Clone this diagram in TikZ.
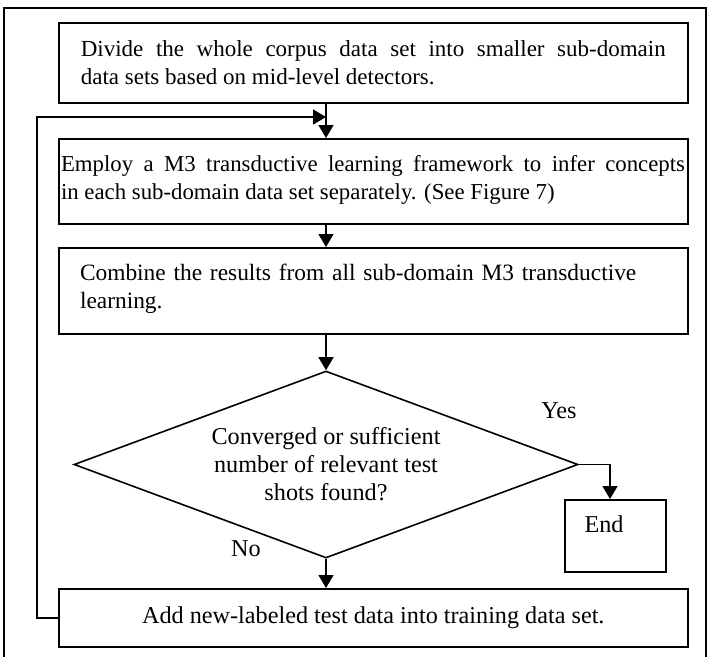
\documentclass[tikz,border=0pt]{standalone}
\usepackage{fontspec}
\setmainfont{Liberation Serif}
\usetikzlibrary{arrows.meta,shapes.geometric}
\begin{document}
\begin{tikzpicture}[x=1pt,y=-1pt,
  box/.style={draw, rectangle, line width=1.6pt, inner sep=0pt, anchor=north west},
  txt/.style={inner sep=0pt, font=\fontsize{23}{27.5}\selectfont},
  big/.style={inner sep=0pt, font=\fontsize{24.2}{28}\selectfont},
  arr/.style={-{Triangle[length=13pt,width=15pt]}, line width=1.6pt}]
\useasboundingbox (0,0) rectangle (712,656);
\draw[line width=1.5pt] (4,8) rectangle (706,700);
% boxes
\node[box, minimum width=629pt, minimum height=80pt] (b1) at (58,22) {};
\node[box, minimum width=629pt, minimum height=85pt] (b2) at (58,138) {};
\node[box, minimum width=629pt, minimum height=86pt] (b3) at (58,247) {};
\node[draw, diamond, line width=1.6pt, inner sep=0pt, minimum width=504pt, minimum height=187pt] (d) at (326,464.5) {};
\node[box, minimum width=101pt, minimum height=72pt] (e) at (564,499) {};
\node[box, minimum width=629pt, minimum height=58pt] (b4) at (58,588) {};
% texts
\node[txt, text width=585pt, align=justify] (t1) at (b1.center) {Divide the whole corpus data set into smaller sub-domain\linebreak data sets based on mid-level detectors.};
\node[txt, text width=624pt, align=justify, font=\fontsize{22.8}{27.5}\selectfont] (t2) at (373,180) {Employ a M3 transductive learning framework to infer concepts\linebreak in each sub-domain data set separately. (See Figure 7)};
\node[txt, text width=590pt, align=left, font=\fontsize{23.4}{28}\selectfont] (t3) at (375,289) {Combine the results from all sub-domain M3 transductive\\learning.};
\node[big, align=center] (td) at (326,464) {Converged or sufficient\\number of relevant test\\shots found?};
\node[big] (te) at (604,524) {End};
\node[big] (t4) at (b4.center) {Add new-labeled test data into training data set.};
\node[big] (yes) at (559,411) {Yes};
\node[big] (no) at (246,549) {No};
% connectors
\coordinate (join) at (326,117);
\draw[arr] (b1.south -| d.north) -- (b2.north -| d.north);
\draw[arr] (b2.south -| d.north) -- (b3.north -| d.north);
\draw[arr] (b3.south -| d.north) -- (d.north);
\draw[arr] (d.south) -- (b4.north -| d.south);
\draw[arr] (d.east) -| (e.north -| 610,0);
\draw[arr] (b4.west) -- ++(-21,0) |- (join);
\end{tikzpicture}
\end{document}
